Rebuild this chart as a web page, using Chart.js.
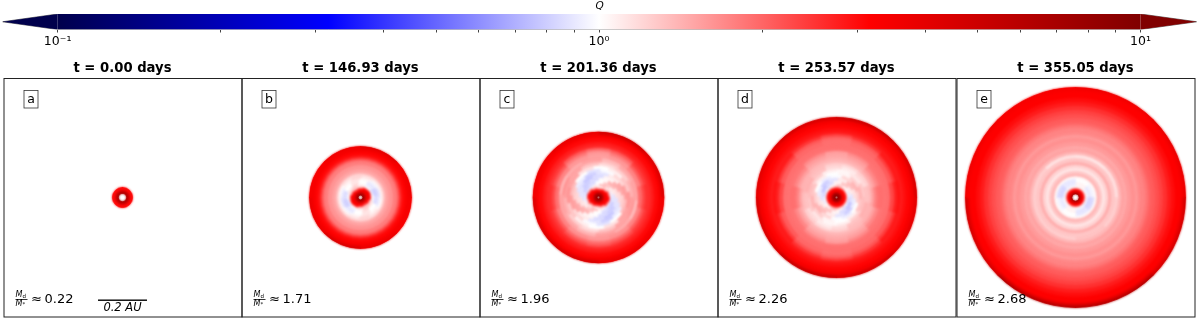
<!DOCTYPE html>
<html>
<head>
<meta charset="utf-8">
<script src="https://cdn.jsdelivr.net/npm/chart.js"></script>
<style>
body{margin:0;background:#fff;overflow:hidden;}
canvas{position:absolute;}
</style>
</head>
<body>
<canvas id="colorbar" width="1200" height="60" style="left:0;top:0"></canvas>
<canvas id="panel0" width="240" height="262" style="left:3px;top:60px"></canvas>
<canvas id="panel1" width="240" height="262" style="left:241px;top:60px"></canvas>
<canvas id="panel2" width="240" height="262" style="left:479px;top:60px"></canvas>
<canvas id="panel3" width="240" height="262" style="left:717px;top:60px"></canvas>
<canvas id="panel4" width="240" height="262" style="left:956px;top:60px"></canvas>
<script>

const panelTitles=["t = 0.00 days","t = 146.93 days","t = 201.36 days","t = 253.57 days","t = 355.05 days"];
const panelLetters=["a","b","c","d","e"];
const massRatios=["0.22","1.71","1.96","2.26","2.68"];

const colorbarTicks=[0.1,0.2,0.3,0.4,0.5,0.6,0.7,0.8,0.9,1,2,3,4,5,6,7,8,9,10];
const colorbarLabels={0.1:"10⁻¹",1:"10⁰",10:"10¹"};
const colorbarMin=0.0791;
const colorbarMax=12.7;

// half width of every panel and length of the scale bar, in AU
const panelHalfAU=0.486;
const scaleBarAU=0.2;

/*
=========================
DISK RINGS, outside to inside
radius = outer edge of ring (AU), rotation = degrees of first sector, q = Toomre Q per sector
=========================
*/

const radiusA=[0.041,0.035,0.031,0.026];
const rotationA=[0,0,0,0];
const qA=[[3.0],[3.4],[4.5],[6.5]];
const holeA=0.017;

const radiusB=[0.208,0.200,0.188,0.176,0.167,0.159,0.151,0.135,0.118,0.106,0.098,0.090,0.082,0.073,0.065,0.057,0.049,0.045,0.041,0.037,0.029,0.022,0.016];
const rotationB=[0,0,0,0,0,0,0,0,0,0,0,65,60,55,55,50,45,45,45,45,0,0,0];
const qB=[
[4,3.6,3.4,3.8,4.4,3.8,3.4,3.6],[3.4],[3.1],[2.9],[2.5],[2.05],[1.8],[1.62],[1.52],[1.42],[1.2],
[1.05,1.02,1.12,1.22,1.12,1.05,1.05,1.02,1.12,1.22,1.12,1.05],
[0.88,0.92,1.05,1.15,1.05,0.95,0.88,0.92,1.05,1.15,1.05,0.95],
[0.82,0.86,1,1.12,1,0.9,0.82,0.86,1,1.12,1,0.9],
[0.8,0.85,1,1.15,1,0.9,0.8,0.85,1,1.15,1,0.9],
[0.85,0.95,1.1,1.2,1.05,0.95,0.85,0.95,1.1,1.2,1.05,0.95],
[1,1.1,1.25,1.4,1.2,1.05,1,1.1,1.25,1.4,1.2,1.05],
[3,2.2,1.3,1.15,1.3,2.2,3,2.2,1.3,1.15,1.3,2.2],
[3.2,3,2,1.6,2,3,3.2,3,2,1.6,2,3],
[3.3,3.3,3,2.6,3,3.3,3.3,3.3,3,2.6,3,3.3],
[3.8],[5.5],[8]
];
const holeB=0.010;

const radiusC=[0.267,0.257,0.245,0.229,0.216,0.204,0.192,0.180,0.163,0.151,0.143,0.131,0.118,0.106,0.094,0.082,0.069,0.057,0.049,0.043,0.037,0.031,0.024,0.020,0.014];
const rotationC=[0,0,0,0,0,345,345,345,5,5,0,350,335,325,315,302,290,275,85,85,85,0,0,0,0];
const qC=[
[4.6,4.2,3.6,3.8,4.4,4.2,3.6,3.8],[3.3],[3.05],[2.8],[2.6],
[1.95,2.1,2.4,2.55,2.4,2.25,2.15,2.25,2.4,2.55,2.4,2.1],
[1.62,1.8,2.1,2.3,2.1,1.95,1.9,1.95,2.1,2.3,2.1,1.8],
[1.55,1.6,1.75,1.95,1.75,1.65,1.6,1.65,1.75,1.9,1.75,1.6],
[1.38,1.5,1.5,1.35,1.45,1.55,1.42,1.5,1.5,1.38,1.45,1.55],
[1.3,1.42,1.52,1.6,1.52,1.45,1.3,1.42,1.52,1.65,1.52,1.45],
[1.18,1.25,1.4,1.55,1.5,1.3,1.18,1.25,1.4,1.55,1.5,1.3],
[1,1.08,1.3,1.6,1.5,1.15,1,1.08,1.3,1.6,1.5,1.15],
[0.88,0.98,1.2,1.55,1.35,1,0.88,0.98,1.2,1.55,1.35,1],
[0.8,0.88,1.1,1.5,1.25,0.92,0.8,0.88,1.1,1.5,1.25,0.92],
[0.78,0.85,1.05,1.45,1.2,0.88,0.78,0.85,1.05,1.45,1.2,0.88],
[0.8,0.85,1.02,1.4,1.15,0.88,0.8,0.85,1.02,1.4,1.15,0.88],
[0.8,0.85,1,1.3,1.1,0.88,0.8,0.85,1,1.3,1.1,0.88],
[0.85,0.9,1.05,1.4,1.15,0.92,0.85,0.9,1.05,1.4,1.15,0.92],
[2.4,1.7,1.2,1.05,1.2,1.7,2.4,1.7,1.2,1.05,1.2,1.7],
[3.2,2.8,1.7,1.4,1.7,2.8,3.2,2.8,1.7,1.4,1.7,2.8],
[3.3,3.3,3,2.4,3,3.3,3.3,3.3,3,2.4,3,3.3],
[3.4],[4.5],[6.5],[8]
];
const holeC=0.006;

const radiusD=[0.327,0.318,0.302,0.286,0.273,0.261,0.249,0.237,0.220,0.204,0.192,0.180,0.167,0.155,0.143,0.131,0.118,0.106,0.094,0.082,0.069,0.057,0.049,0.045,0.041,0.033,0.024,0.020,0.014];
const rotationD=[0,0,0,0,0,345,345,345,0,0,345,345,345,345,10,10,0,335,315,305,290,272,260,0,0,0,0,0,0];
const qD=[
[4.8,4.4,4,4.6,5,4.4,4,4.4],[3.4],[3.1],[2.95],[2.8],
[2.3,2.5,2.8,2.9,2.8,2.5,2.35,2.5,2.8,2.9,2.8,2.5],
[1.98,2.12,2.4,2.7,2.4,2.15,2.02,2.15,2.4,2.7,2.4,2.12],
[1.92,1.98,2.1,2.3,2.1,1.98,1.92,1.98,2.1,2.3,2.1,1.98],
[1.92],[1.88],
[1.55,1.68,1.85,1.92,1.85,1.7,1.58,1.7,1.85,1.92,1.85,1.68],
[1.5,1.55,1.72,1.9,1.72,1.55,1.5,1.55,1.72,1.9,1.72,1.55],
[1.45,1.46,1.55,1.75,1.55,1.46,1.45,1.46,1.55,1.75,1.55,1.46],
[1.38,1.38,1.42,1.52,1.42,1.38,1.38,1.38,1.42,1.52,1.42,1.38],
[1.2,1.25,1.35,1.4,1.35,1.25,1.2,1.25,1.35,1.4,1.35,1.25],
[1.1,1.18,1.32,1.42,1.32,1.18,1.1,1.18,1.32,1.42,1.32,1.18],
[1.04,1.12,1.28,1.34,1.24,1.08,1.04,1.12,1.28,1.34,1.24,1.08],
[1,1.05,1.25,1.4,1.3,1.08,1,1.05,1.25,1.4,1.3,1.08],
[0.92,0.98,1.2,1.4,1.25,1,0.92,0.98,1.2,1.4,1.25,1],
[0.8,0.88,1.1,1.35,1.15,0.92,0.8,0.88,1.1,1.35,1.15,0.92],
[0.77,0.85,1.05,1.3,1.1,0.88,0.77,0.85,1.05,1.3,1.1,0.88],
[0.82,0.88,1.05,1.25,1.05,0.9,0.82,0.88,1.05,1.25,1.05,0.9],
[0.95,1,1.2,1.5,1.25,1,0.95,1,1.2,1.5,1.25,1],
[1.7],[3],[3.4],[4.5],[7],[8.5]
];
const holeD=0.006;

const radiusE=[0.449,0.443,0.433,0.408,0.392,0.376,0.359,0.343,0.327,0.310,0.298,0.286,0.269,0.257,0.245,0.229,0.212,0.200,0.188,0.176,0.163,0.147,0.135,0.122,0.110,0.098,0.088,0.078,0.065,0.053,0.045,0.041,0.037,0.029,0.024,0.020];
const rotationE=[0,0,0,0,0,0,0,0,0,0,0,0,0,0,0,0,0,0,0,0,0,0,0,0,0,0,0,0,0,0,0,0,0,0,0,0];
const qE=[
[3.6,3.8,4.6,6,6,4.6,3.6,3.4],[3.3,3.4,3.7,4.2,4.2,3.7,3.3,3.3],
[3.2],[3],[2.8],[2.55],[2.35],[2.2],[2.1],[2],[1.85],[1.75],[1.7],[1.58],[1.65],[1.58],[1.48],[1.52],[1.38],
[1.12,1.15,1.25,1.32,1.25,1.25,1.25,1.14],
[1.3],[1.45],[1.22],[1.12],[1.3],[1.4],[1.03],
[1,0.95,0.85,0.9,1,0.95,0.85,0.9],
[1.05,0.9,0.82,0.88,1.05,0.9,0.82,0.9],
[1.05,0.95,0.9,0.95,1.05,0.95,0.9,0.95],
[1.1],[1.7],[3.3],[3.6],[5],[7]
];
const holeE=0.015;

const panelRadius=[radiusA,radiusB,radiusC,radiusD,radiusE];
const panelRotation=[rotationA,rotationB,rotationC,rotationD,rotationE];
const panelQ=[qA,qB,qC,qD,qE];
const panelHole=[holeA,holeB,holeC,holeD,holeE];

// seismic colormap on a log norm from 0.1 to 10
const seismicStops=[[0,0,76],[0,0,255],[255,255,255],[255,0,0],[128,0,0]];

function colorOf(q){
let t=(Math.log10(q)+1)/2*4;
t=Math.min(3.999,Math.max(0,t));
const i=Math.floor(t);
const f=t-i;
const a=seismicStops[i];
const b=seismicStops[i+1];
return "rgb("+Math.round(a[0]+(b[0]-a[0])*f)+","+Math.round(a[1]+(b[1]-a[1])*f)+","+Math.round(a[2]+(b[2]-a[2])*f)+")";
}

/*
=========================
COLORBAR
=========================
*/

function barGradient(context){
const chart=context.chart;
const x=chart.scales.x;
if(!x) return "#fff";
const x0=x.getPixelForValue(0.1);
const x1=x.getPixelForValue(10);
if(!isFinite(x0)||!isFinite(x1)) return "#fff";
const g=chart.ctx.createLinearGradient(x0,0,x1,0);
seismicStops.forEach((s,i)=>{
g.addColorStop(i/4,"rgb("+s[0]+","+s[1]+","+s[2]+")");
});
return g;
}

new Chart(document.getElementById("colorbar"),{
type:"scatter",
data:{
datasets:[
{
data:[{x:0.1,y:0},{x:0.1,y:1},{x:10,y:1},{x:10,y:0}],
showLine:true,fill:"shape",backgroundColor:barGradient,borderWidth:0,pointRadius:0
},
{
data:[{x:colorbarMin,y:0.5},{x:0.1,y:1},{x:0.1,y:0}],
showLine:true,fill:"shape",backgroundColor:"#00004c",borderWidth:0,pointRadius:0
},
{
data:[{x:10,y:0},{x:10,y:1},{x:colorbarMax,y:0.5}],
showLine:true,fill:"shape",backgroundColor:"#800000",borderWidth:0,pointRadius:0
},
{
data:[{x:colorbarMin,y:0.5},{x:0.1,y:1},{x:10,y:1},{x:colorbarMax,y:0.5},{x:10,y:0},{x:0.1,y:0},{x:colorbarMin,y:0.5}],
showLine:true,fill:false,borderColor:"#555",borderWidth:0.8,pointRadius:0
}
]
},
options:{
responsive:false,
animation:false,
events:[],
layout:{padding:{left:2.5,right:3.3,top:0,bottom:0}},
plugins:{
legend:{display:false},
tooltip:{enabled:false},
title:{
display:true,
text:"Q",
color:"#000",
font:{family:"DejaVu Sans",size:10.5,style:"italic",weight:"normal"},
padding:{top:0,bottom:1.4}
}
},
scales:{
y:{display:false,min:0,max:1},
x:{
type:"logarithmic",
min:colorbarMin,
max:colorbarMax,
afterFit:function(axis){axis.height=30.5;},
afterBuildTicks:function(axis){
axis.ticks=colorbarTicks.map(v=>({value:v}));
},
border:{display:false},
grid:{drawOnChartArea:false,drawTicks:true,tickLength:3,color:"#444"},
ticks:{
autoSkip:false,
maxRotation:0,
padding:2,
color:"#000",
font:{family:"DejaVu Sans",size:12.5},
callback:function(value){
return colorbarLabels[value]||"";
}
}
}
}
}
});

/*
=========================
PANELS
=========================
*/

// softens ring and sector edges, the picture is a resampled image
const softenDisk={
id:"softenDisk",
afterDatasetsDraw:function(chart){
const a=chart.chartArea;
const ctx=chart.ctx;
ctx.save();
ctx.filter="blur(1px)";
ctx.drawImage(ctx.canvas,a.left,a.top,a.width,a.height,a.left,a.top,a.width,a.height);
ctx.restore();
}
};

const panelDecor={
id:"panelDecor",
afterDraw:function(chart,args,opts){
const a=chart.chartArea;
const ctx=chart.ctx;
const L=a.left;
const font="DejaVu Sans";
ctx.save();

// frame
ctx.strokeStyle="#222";
ctx.lineWidth=1;
ctx.strokeRect(a.left+0.5,a.top+0.5,a.width,a.height-0.5);

// letter box
ctx.fillStyle="#fff";
ctx.fillRect(L+20.5,a.top+12.5,14,17.5);
ctx.strokeStyle="#333";
ctx.lineWidth=0.8;
ctx.strokeRect(L+20.5,a.top+12.5,14,17.5);
ctx.fillStyle="#000";
ctx.textAlign="center";
ctx.textBaseline="middle";
ctx.font="12.5px '"+font+"'";
ctx.fillText(opts.letter,L+27.5,a.top+21.5);

// mass ratio
const yMid=a.top+221.5;
ctx.textAlign="left";
ctx.font="italic 8px '"+font+"'";
ctx.fillText("M",L+12,yMid-4.5);
ctx.fillText("M",L+12,yMid+4.5);
ctx.font="5.5px '"+font+"'";
ctx.fillText("d",L+19,yMid-3);
ctx.fillText("*",L+19,yMid+5.5);
ctx.fillRect(L+12,yMid-0.4,12,0.8);
ctx.font="13px '"+font+"'";
ctx.fillText("≈",L+27.5,yMid);
ctx.fillText(opts.ratio,L+41,yMid);

// scale bar
if(opts.bar){
const len=scaleBarAU/(2*panelHalfAU)*a.width;
const cx=(a.left+a.right)/2;
ctx.fillRect(cx-len/2,a.top+221.5,len,1.4);
ctx.textAlign="center";
ctx.font="italic 11.5px '"+font+"'";
ctx.fillText(scaleBarAU+" AU",cx,a.top+230.5);
}

ctx.restore();
}
};

function ringDatasets(radius,rotation,q,hole){
const sets=[{data:[1],weight:panelHalfAU-radius[0],backgroundColor:"rgba(0,0,0,0)",borderWidth:0}];
radius.forEach((r,i)=>{
const inner=i+1<radius.length?radius[i+1]:hole;
const colors=q[i].map(colorOf);
sets.push({
data:q[i].map(()=>1),
weight:r-inner,
rotation:rotation[i],
backgroundColor:colors,
borderColor:colors,
borderWidth:0.7
});
});
return sets;
}

panelTitles.forEach((title,i)=>{
new Chart(document.getElementById("panel"+i),{
type:"doughnut",
data:{
datasets:ringDatasets(panelRadius[i],panelRotation[i],panelQ[i],panelHole[i])
},
options:{
responsive:false,
animation:false,
events:[],
cutout:(panelHole[i]/panelHalfAU*100)+"%",
layout:{padding:{left:0.5,right:1.5,top:0,bottom:5}},
plugins:{
legend:{display:false},
tooltip:{enabled:false},
title:{
display:true,
text:title,
color:"#000",
font:{family:"DejaVu Sans",size:13.2,weight:"bold"},
padding:{top:1,bottom:1.16}
},
panelDecor:{letter:panelLetters[i],ratio:massRatios[i],bar:i==0}
}
},
plugins:[softenDisk,panelDecor]
});
});

</script>
</body>
</html>
